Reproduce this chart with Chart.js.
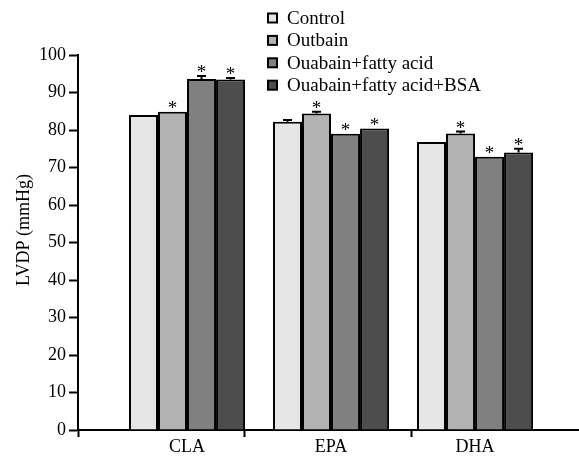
<!DOCTYPE html>
<html>
<head>
<meta charset="utf-8">
<script src="https://cdn.jsdelivr.net/npm/chart.js@4/dist/chart.umd.min.js"></script>
<style>
  body { margin: 0; background: #fff; }
  #wrap { width: 579px; height: 457px; }
</style>
</head>
<body>
<div id="wrap"><canvas id="lvdpChart"></canvas></div>
<script>
// data
const categories = ['CLA', 'EPA', 'DHA'];
const seriesNames = ['Control', 'Outbain', 'Ouabain+fatty acid', 'Ouabain+fatty acid+BSA'];
const controlValues = [84.0, 82.2, 76.8];
const outbainValues = [84.9, 84.4, 79.1];
const fattyAcidValues = [93.6, 79.0, 72.9];
const bsaValues = [93.5, 80.4, 74.0];
const controlErrors = [0, 0.5, 0];
const outbainErrors = [0, 0.5, 0.5];
const fattyAcidErrors = [0.8, 0, 0];
const bsaErrors = [0.4, 0, 1.0];
const controlStars = [false, false, false];
const outbainStars = [true, true, true];
const fattyAcidStars = [true, true, true];
const bsaStars = [true, true, true];
const yTickValues = [0, 10, 20, 30, 40, 50, 60, 70, 80, 90, 100];
const yTitle = 'LVDP (mmHg)';

const colors = ['#e6e6e6', '#b3b3b3', '#808080', '#4d4d4d'];
const FONT = '"Liberation Serif", "Times New Roman", serif';

const seriesValues = [controlValues, outbainValues, fattyAcidValues, bsaValues];
const seriesErrors = [controlErrors, outbainErrors, fattyAcidErrors, bsaErrors];
const seriesStars = [controlStars, outbainStars, fattyAcidStars, bsaStars];

const datasets = seriesNames.map((name, s) => ({
    label: name,
    data: seriesValues[s].map((v, i) => ({ x: i + 1, y: v })),
    backgroundColor: colors[s],
    borderColor: '#000',
    borderWidth: 2,
    errors: seriesErrors[s],
    stars: seriesStars[s]
}));

// error caps, asterisks, legend, y title
const extras = {
    id: 'extras',
    afterDatasetsDraw(chart) {
        const ctx = chart.ctx;
        const y = chart.scales.y;
        ctx.save();
        chart.data.datasets.forEach((ds, s) => {
            const meta = chart.getDatasetMeta(s);
            meta.data.forEach((bar, i) => {
                const v = ds.data[i].y;
                const err = ds.errors[i];
                let top = bar.y;
                if (err > 0) {
                    const yt = y.getPixelForValue(v + err);
                    ctx.strokeStyle = '#000';
                    ctx.lineWidth = 2;
                    ctx.beginPath();
                    ctx.moveTo(bar.x, bar.y);
                    ctx.lineTo(bar.x, yt);
                    ctx.moveTo(bar.x - 4.5, yt);
                    ctx.lineTo(bar.x + 4.5, yt);
                    ctx.stroke();
                    top = yt;
                }
                if (ds.stars[i]) {
                    ctx.fillStyle = '#000';
                    ctx.font = '19px ' + FONT;
                    ctx.textAlign = 'center';
                    ctx.textBaseline = 'alphabetic';
                    ctx.fillText('*', bar.x, top + 2);
                }
            });
        });

        // legend
        ctx.font = '19px ' + FONT;
        ctx.textAlign = 'left';
        ctx.textBaseline = 'middle';
        chart.data.datasets.forEach((ds, s) => {
            const cy = 18 + s * 22.4;
            ctx.fillStyle = ds.backgroundColor;
            ctx.fillRect(268, cy - 4.5, 9, 9);
            ctx.strokeStyle = '#000';
            ctx.lineWidth = 2;
            ctx.strokeRect(268, cy - 4.5, 9, 9);
            ctx.fillStyle = '#000';
            ctx.fillText(ds.label, 287, cy + 1);
        });

        // y title
        ctx.font = '18px ' + FONT;
        ctx.translate(24, 230);
        ctx.rotate(-Math.PI / 2);
        ctx.textAlign = 'center';
        ctx.fillText(yTitle, 0, 0);
        ctx.restore();
    }
};

new Chart(document.getElementById('lvdpChart'), {
    type: 'bar',
    data: { datasets },
    options: {
        responsive: true,
        maintainAspectRatio: false,
        animation: false,
        layout: { padding: { top: 55, right: 1, left: 0, bottom: 0 } },
        datasets: { bar: { categoryPercentage: 0.806, barPercentage: 1 } },
        plugins: { legend: { display: false }, tooltip: { enabled: false } },
        scales: {
            x: {
                type: 'linear',
                position: 'bottom',
                weight: 1,
                offset: false,
                min: 0.243,
                max: 3.715,
                afterBuildTicks: sc => { sc.ticks = categories.map((c, i) => ({ value: i + 1 })); },
                afterFit: sc => { sc.height = 19; },
                ticks: {
                    callback: v => categories[v - 1],
                    color: '#000',
                    font: { family: FONT, size: 18 },
                    padding: -2,
                    maxRotation: 0,
                    autoSkip: false
                },
                grid: { display: false, drawTicks: false, offset: false },
                border: { display: false }
            },
            xt: {
                type: 'linear',
                position: 'bottom',
                weight: 0,
                offset: false,
                min: 0,
                max: 3,
                ticks: { display: false, stepSize: 1 },
                afterFit: sc => { sc.height = 8; },
                grid: {
                    offset: false,
                    drawOnChartArea: false,
                    tickLength: 7,
                    tickWidth: 2,
                    tickColor: c => (c.index === 3 ? 'rgba(0,0,0,0)' : '#000')
                },
                border: { color: '#000', width: 2 }
            },
            y: {
                min: 0,
                max: 100,
                afterBuildTicks: sc => { sc.ticks = yTickValues.map(v => ({ value: v })); },
                afterFit: sc => { sc.width = 78; },
                ticks: {
                    color: '#000',
                    font: { family: FONT, size: 18 },
                    padding: 3
                },
                grid: {
                    drawOnChartArea: false,
                    tickLength: 9,
                    tickWidth: 2,
                    tickColor: '#000'
                },
                border: { color: '#000', width: 2 }
            }
        }
    },
    plugins: [extras]
});
</script>
</body>
</html>
